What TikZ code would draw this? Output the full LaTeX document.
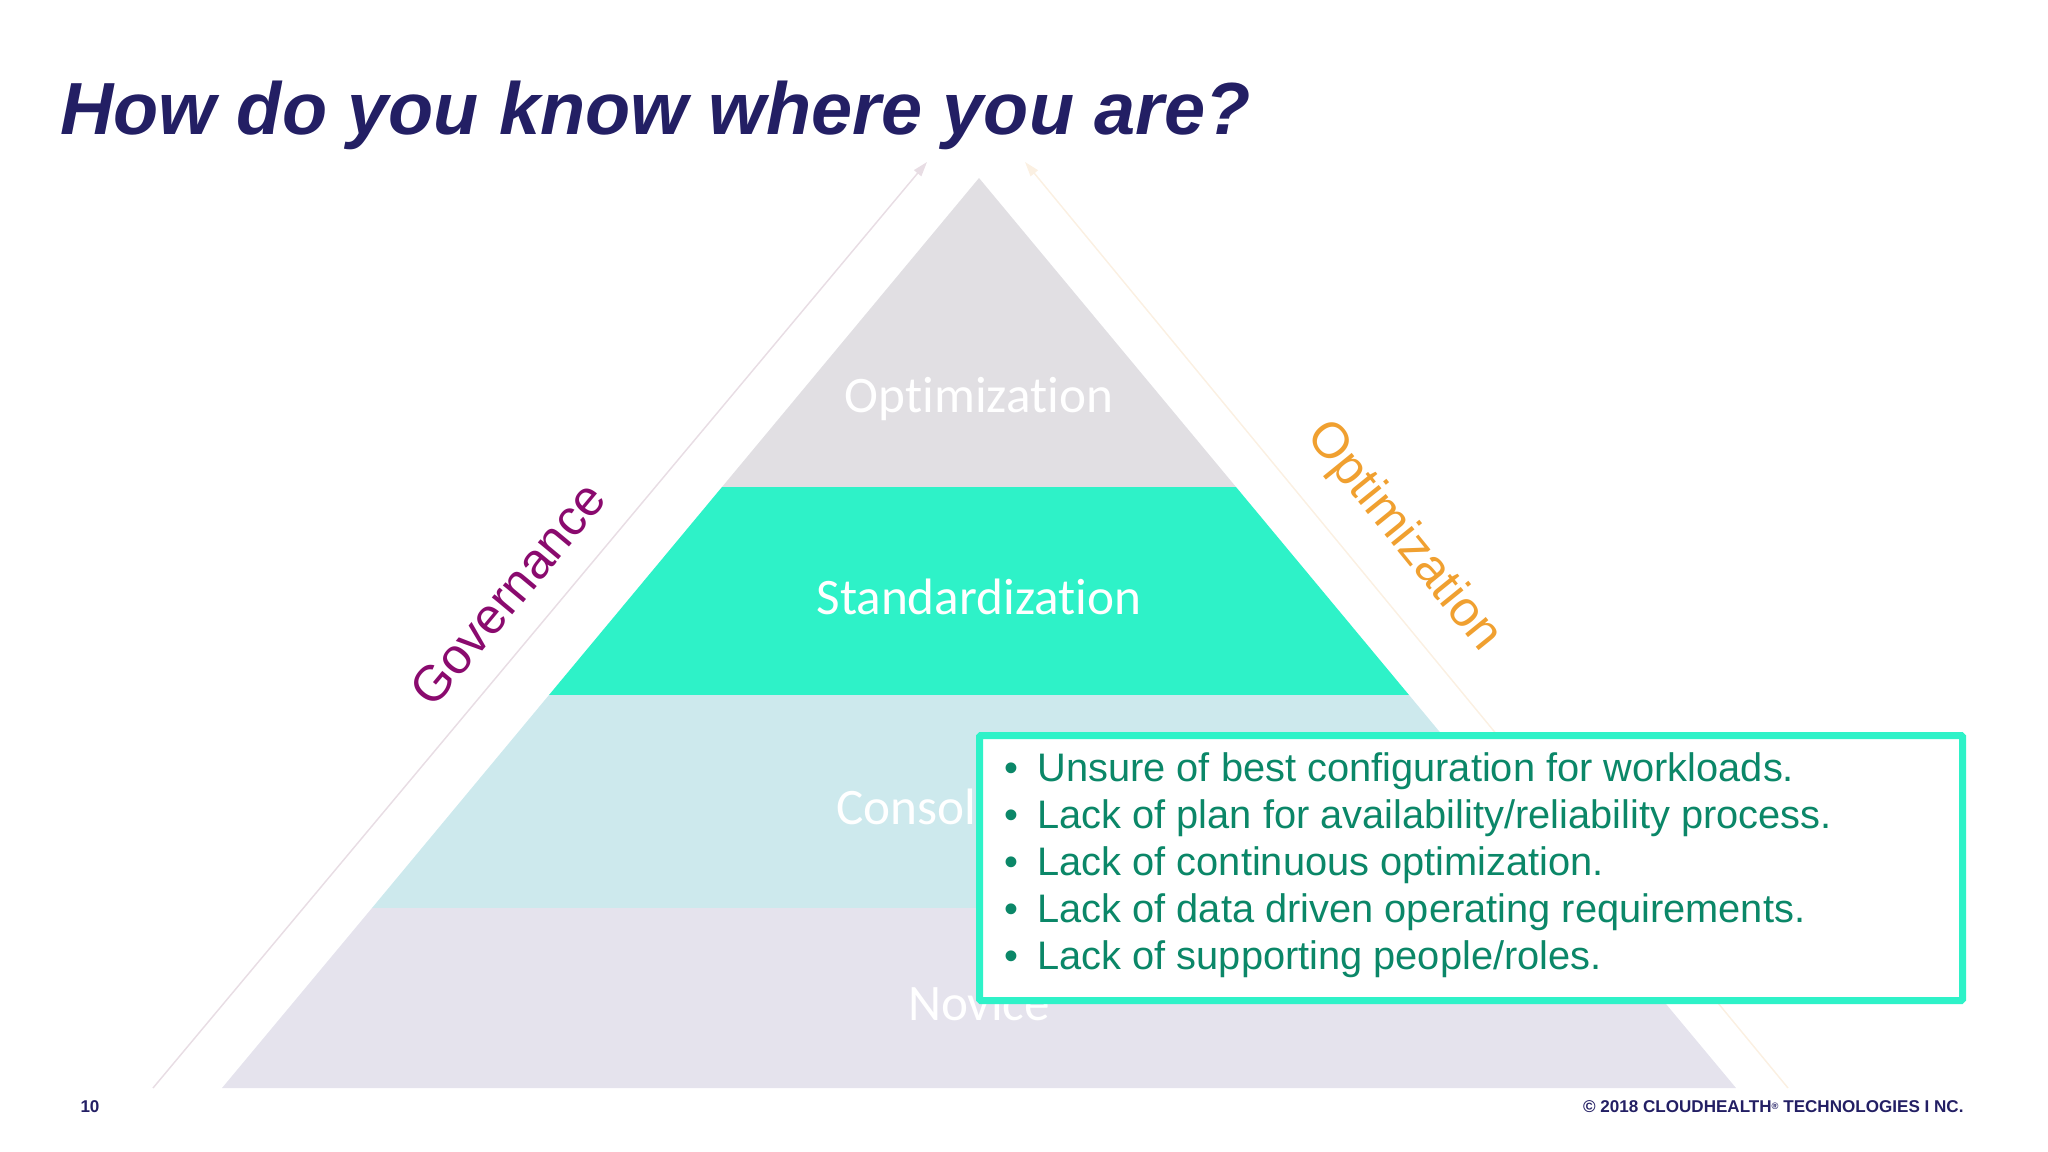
\documentclass[tikz,border=0pt]{standalone}
\usepackage{fontspec}
\setmainfont[Ligatures=NoCommon]{Liberation Sans}
\newfontfamily\levelfont[Ligatures=NoCommon]{Carlito}
\usetikzlibrary{arrows.meta}

\definecolor{titleblue}{RGB}{35,31,100}
\definecolor{tealbright}{RGB}{46,242,200}
\definecolor{tealtext}{RGB}{11,135,104}
\definecolor{greytop}{RGB}{225,223,227}
\definecolor{bluepale}{RGB}{205,233,237}
\definecolor{lilacpale}{RGB}{229,227,237}

\tikzset{every picture/.style={line width=0.75pt},
    leveltext/.style={inner sep=0pt, text=white, font=\levelfont\fontsize{38.4}{38.4}\selectfont},
    sidearrow/.style={line width=1.1pt, -{Triangle[length=11pt,width=7pt]}},
    gapline/.style={anchor=base west, inner sep=0pt, text=tealtext, font=\fontsize{29.85}{29.85}\selectfont},
    footertext/.style={inner sep=0pt, text=titleblue, font=\bfseries\fontsize{12.8}{12.8}\selectfont}
}
\newcommand{\bulletline}[1]{\makebox[24.75pt][l]{\textbullet}#1}

\begin{document}
\begin{tikzpicture}[x=0.75pt,y=0.75pt,yscale=-1,xscale=1]
        \useasboundingbox (0,0) rectangle (2048,1152);

        %Side arrows
        \coordinate (govStart) at (153,1088);
        \coordinate (govEnd) at (927,162);
        \coordinate (optStart) at (1788,1088);
        \coordinate (optEnd) at (1025,162);
        \draw [sidearrow, draw={rgb, 255:red, 232; green, 221; blue, 228 }, fill={rgb, 255:red, 232; green, 221; blue, 228 }] (govStart) -- (govEnd) ;
        \draw [sidearrow, draw={rgb, 255:red, 251; green, 240; blue, 226 }, fill={rgb, 255:red, 251; green, 240; blue, 226 }] (optStart) -- (optEnd) ;

        %Pyramid levels
        \fill [greytop] (979,178) -- (1236,487) -- (722,487) -- cycle ;
        \fill [tealbright] (722,487) -- (1236,487) -- (1409,695) -- (549,695) -- cycle ;
        \fill [bluepale] (549,695) -- (1409,695) -- (1586,908) -- (372,908) -- cycle ;
        \fill [lilacpale] (372,908) -- (1586,908) -- (1736,1088) -- (222,1088) -- cycle ;

        % Text Node
        \draw (979,399) node (levelOpt) [leveltext] {Optimization};
        % Text Node
        \draw (979,597) node (levelStd) [leveltext] {Standardization};
        % Text Node
        \draw (979,807) node (levelCon) [leveltext] {Consolidation};
        % Text Node
        \draw (979,1003) node (levelNov) [leveltext] {Novice};

        % Text Node
        \draw (508,594) node (sideGov) [rotate=50.2, inner sep=0pt, text={rgb, 255:red, 138; green, 10; blue, 110 }, font=\fontsize{37.6}{37.6}\selectfont] {Governance};
        % Text Node
        \draw (1403,537) node (sideOpt) [rotate=-51, inner sep=0pt, text={rgb, 255:red, 240; green, 160; blue, 48 }, font=\fontsize{37.6}{37.6}\selectfont] {Optimization};

        %Gaps box
        \draw [tealbright, fill=white, line width=5.25pt, rounded corners=1pt] (979.5,735.5) rectangle (1962.5,1000.5) ;

        % Text Node
        \draw (1004,781) node (gapConfig) [gapline] {\bulletline{Unsure of best configuration for workloads.}};
        % Text Node
        \draw (1004,828) node (gapPlan) [gapline] {\bulletline{Lack of plan for availability/reliability process.}};
        % Text Node
        \draw (1004,875) node (gapContinuous) [gapline] {\bulletline{Lack of continuous optimization.}};
        % Text Node
        \draw (1004,922) node (gapData) [gapline] {\bulletline{Lack of data driven operating requirements.}};
        % Text Node
        \draw (1004,969) node (gapPeople) [gapline] {\bulletline{Lack of supporting people/roles.}};

        % Text Node
        \draw (60,135) node (slideTitle) [anchor=base west, inner sep=0pt, text=titleblue, font=\bfseries\itshape\fontsize{55.4}{55.4}\selectfont] {How do you know where you are?};
        % Text Node
        \draw (80,1112) node (slideNumber) [anchor=base west, footertext] {10};
        % Text Node
        \draw (1964,1112) node (slideCopyright) [anchor=base east, footertext] {© 2018 CLOUDHEALTH\raisebox{2pt}{\fontsize{7}{7}\selectfont ®} TECHNOLOGIES I NC.};
\end{tikzpicture}
\end{document}
